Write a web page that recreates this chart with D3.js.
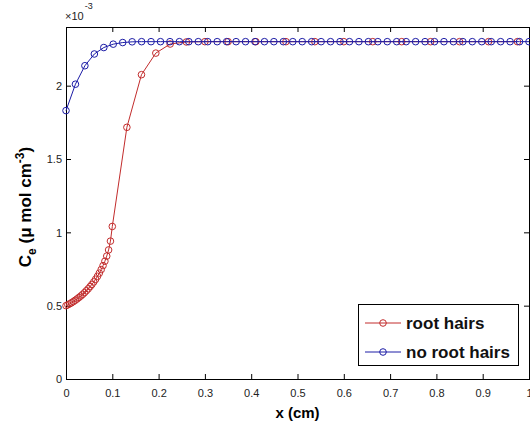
<!DOCTYPE html>
<html>
<head>
<meta charset="utf-8">
<title>Ce vs x</title>
<script src="https://d3js.org/d3.v7.min.js"></script>
<style>
  body { margin: 0; background: #fff; }
  svg { font-family: "Liberation Sans", Arial, sans-serif; }
  .tick text { font-size: 11px; fill: #222; }
  .tick line { stroke: #000; }
</style>
</head>
<body>
<div id="chart"></div>
<script>
// ---- data (Ce in units of 1e-3) ----
var rootX = [0, 0.004, 0.008, 0.012, 0.016, 0.02, 0.024, 0.028, 0.032, 0.036,
  0.04, 0.044, 0.048, 0.052, 0.056, 0.06, 0.064, 0.068, 0.072, 0.076,
  0.08, 0.084, 0.088, 0.092, 0.096, 0.1,
  0.1315, 0.163, 0.194, 0.225, 0.26, 0.30, 0.35, 0.41, 0.475, 0.5375,
  0.6, 0.6625, 0.725, 0.7875, 0.85, 0.9125, 0.975];
var rootY = [0.500, 0.506, 0.513, 0.520, 0.528, 0.537, 0.546, 0.556, 0.566, 0.577,
  0.589, 0.602, 0.615, 0.630, 0.645, 0.662, 0.680, 0.700, 0.722, 0.746,
  0.773, 0.803, 0.838, 0.880, 0.940, 1.040,
  1.716, 2.075, 2.222, 2.284, 2.298, 2.300, 2.300, 2.300, 2.300, 2.300,
  2.300, 2.300, 2.300, 2.300, 2.300, 2.300, 2.300];

// no root hairs: 50 equally spaced points on [0, 1]
var noRootX = d3.range(50).map(function(i) { return i / 49; });
var noRootY = [1.830, 2.010, 2.136, 2.216, 2.260, 2.283, 2.294, 2.299, 2.300, 2.300,
  2.300, 2.300, 2.300, 2.300, 2.300, 2.300, 2.300, 2.300, 2.300, 2.300,
  2.300, 2.300, 2.300, 2.300, 2.300, 2.300, 2.300, 2.300, 2.300, 2.300,
  2.300, 2.300, 2.300, 2.300, 2.300, 2.300, 2.300, 2.300, 2.300, 2.300,
  2.300, 2.300, 2.300, 2.300, 2.300, 2.300, 2.300, 2.300, 2.300, 2.300];

var xTicks = [0, 0.1, 0.2, 0.3, 0.4, 0.5, 0.6, 0.7, 0.8, 0.9, 1];
var yTicks = [0, 0.5, 1, 1.5, 2];
var seriesNames = ["root hairs", "no root hairs"];
var seriesColors = ["#c22c2c", "#1c1ca6"];

// ---- layout ----
var margin = {top: 27, right: 1, bottom: 51, left: 66},
    width = 530 - margin.left - margin.right,
    height = 430 - margin.top - margin.bottom;

var svg = d3.select("#chart").append("svg")
    .attr("width", 530)
    .attr("height", 430);

var g = svg.append("g")
    .attr("transform", "translate(" + margin.left + "," + margin.top + ")");

var x = d3.scaleLinear().domain([0, 1]).range([0, width]);
var y = d3.scaleLinear().domain([0, 2.4]).range([height, 0]);

var fmt = function(d) { return d3.format("")(d); };

// axes, ticks pointing inward (matlab style)
g.append("g")
  .attr("transform", "translate(0," + height + ")")
  .call(d3.axisBottom(x).tickValues(xTicks).tickFormat(fmt).tickSize(-5).tickPadding(10))
  .call(function(a) { a.select(".domain").remove(); });

g.append("g")
  .call(d3.axisTop(x).tickValues(xTicks).tickFormat("").tickSize(-5))
  .call(function(a) { a.select(".domain").remove(); });

g.append("g")
  .call(d3.axisLeft(y).tickValues(yTicks).tickFormat(fmt).tickSize(-5).tickPadding(4))
  .call(function(a) { a.select(".domain").remove(); a.selectAll("text").attr("dy", "0.35em"); });

g.append("g")
  .attr("transform", "translate(" + width + ",0)")
  .call(d3.axisRight(y).tickValues(yTicks).tickFormat("").tickSize(-5))
  .call(function(a) { a.select(".domain").remove(); });

g.append("rect")
  .attr("width", width)
  .attr("height", height)
  .attr("fill", "none")
  .attr("stroke", "#000")
  .attr("stroke-width", 1)
  .attr("shape-rendering", "crispEdges");

// exponent label
var ex = svg.append("text")
  .attr("x", 65)
  .attr("y", 20)
  .attr("font-size", 11)
  .attr("fill", "#222");
ex.append("tspan").text("\u00d710");
ex.append("tspan").attr("font-size", 9).attr("dy", -11).attr("dx", 1).text("-3");

// series
var series = [
  {x: rootX, y: rootY},
  {x: noRootX, y: noRootY}
];

var line = d3.line()
  .x(function(d) { return x(d[0]); })
  .y(function(d) { return y(d[1]); });

series.forEach(function(s, i) {
  var pts = s.x.map(function(v, j) { return [v, s.y[j]]; });
  g.append("path")
    .datum(pts)
    .attr("fill", "none")
    .attr("stroke", seriesColors[i])
    .attr("stroke-width", 1)
    .attr("d", line);
  g.selectAll(".m" + i)
    .data(pts)
    .enter().append("circle")
    .attr("class", "m" + i)
    .attr("cx", function(d) { return x(d[0]); })
    .attr("cy", function(d) { return y(d[1]); })
    .attr("r", 3.3)
    .attr("fill", "none")
    .attr("stroke", seriesColors[i])
    .attr("stroke-width", 1);
});

// axis labels
svg.append("text")
  .attr("x", margin.left + width / 2)
  .attr("y", 418)
  .attr("text-anchor", "middle")
  .attr("font-size", 15)
  .attr("font-weight", "bold")
  .text("x (cm)");

var yl = svg.append("text")
  .attr("transform", "translate(31,207) rotate(-90)")
  .attr("text-anchor", "middle")
  .attr("font-size", 17)
  .attr("font-weight", "bold");
yl.append("tspan").text("C");
yl.append("tspan").attr("font-size", 12).attr("dy", 5).text("e");
yl.append("tspan").attr("dy", -5).text(" (\u03bc mol cm");
yl.append("tspan").attr("font-size", 12).attr("dy", -7).text("-3");
yl.append("tspan").attr("dy", 7).text(")");

// legend
var legend = svg.append("g").attr("transform", "translate(358,304)");
legend.append("rect")
  .attr("width", 160)
  .attr("height", 61)
  .attr("fill", "#fff")
  .attr("stroke", "#000")
  .attr("shape-rendering", "crispEdges");

var items = legend.selectAll(".item")
  .data(seriesNames)
  .enter().append("g")
  .attr("class", "item")
  .attr("transform", function(d, i) { return "translate(0," + (19 + i * 29) + ")"; });

items.append("line")
  .attr("x1", 7).attr("x2", 43)
  .attr("stroke", function(d, i) { return seriesColors[i]; });
items.append("circle")
  .attr("cx", 25).attr("r", 3.3)
  .attr("fill", "none")
  .attr("stroke", function(d, i) { return seriesColors[i]; });
items.append("text")
  .attr("x", 48)
  .attr("dy", "0.35em")
  .attr("font-size", 17)
  .attr("font-weight", "bold")
  .attr("fill", "#111")
  .text(function(d) { return d; });
</script>
</body>
</html>
